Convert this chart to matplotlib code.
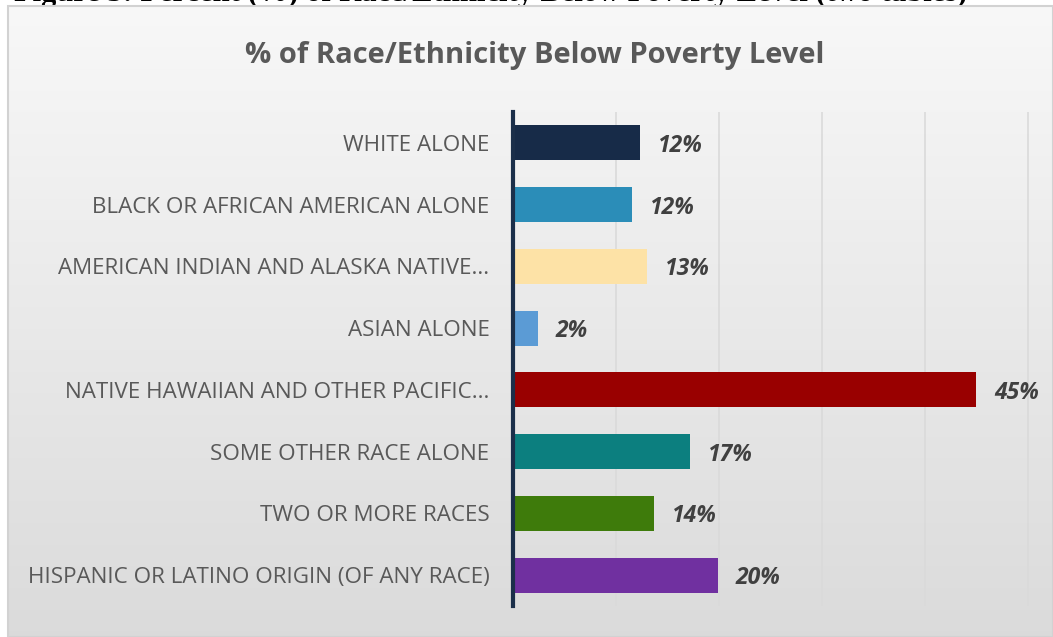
import numpy as np
import matplotlib.pyplot as plt
from matplotlib.patches import Rectangle

categories = [
    "WHITE ALONE",
    "BLACK OR AFRICAN AMERICAN ALONE",
    "AMERICAN INDIAN AND ALASKA NATIVE...",
    "ASIAN ALONE",
    "NATIVE HAWAIIAN AND OTHER PACIFIC...",
    "SOME OTHER RACE ALONE",
    "TWO OR MORE RACES",
    "HISPANIC OR LATINO ORIGIN (OF ANY RACE)",
]
pct_below_poverty = [12.3, 11.6, 13.0, 2.4, 45.0, 17.2, 13.7, 19.9]
bar_colors = ["#172b48", "#2b8db8", "#fde2a6", "#5b9bd5",
              "#990000", "#0c7f7f", "#3e7b0b", "#7030a0"]

title = "% of Race/Ethnicity Below Poverty Level"
caption = "Figure 3: Percent (%) of Race/Ethnicity Below Poverty Level (two tables)"

W, H = 1053, 637
fig = plt.figure(figsize=(W / 100, H / 100), dpi=100)
fig.patch.set_facecolor("white")

# caption line, mostly hidden behind the chart panel and the top edge
fig.text(14 / W, 1 - 1.0 / H, caption, family="Liberation Serif",
         fontweight="bold", fontsize=22, color="black", va="baseline",
         ha="left", zorder=0)

# chart panel with a soft vertical gradient
bg = fig.add_axes([8 / W, 0, 1 - 8 / W, 1 - 6 / H])
bg.set_zorder(1)
grad = np.linspace(0.972, 0.858, 256).reshape(-1, 1)
bg.imshow(np.dstack([grad, grad, grad]), aspect="auto", extent=[0, 1, 0, 1],
          interpolation="bicubic")
bg.set_xlim(0, 1)
bg.set_ylim(0, 1)
bg.axis("off")
bg.add_patch(Rectangle((0, 0), 1, 1, fill=False, edgecolor="#d2d2d2",
                       linewidth=1.5, transform=bg.transAxes, clip_on=False))

fig.text(535 / W, 1 - 55 / H, title, ha="center", va="center",
         family="Open Sans", fontweight="bold", fontsize=21, color="#595959",
         zorder=5)

# plot area
x0, x1 = 513, 1053
y_top, y_bot = 112, 606
ax = fig.add_axes([x0 / W, 1 - y_bot / H, (x1 - x0) / W, (y_bot - y_top) / H])
ax.set_zorder(2)
ax.patch.set_alpha(0)
xmax = (x1 - x0) / 10.29
ax.set_xlim(0, xmax)

y = np.arange(len(categories))
ax.barh(y, pct_below_poverty, height=0.57, color=bar_colors, zorder=3)
ax.set_ylim(len(categories) - 0.5, -0.5)

ax.set_xticks(np.arange(10, xmax, 10))
ax.tick_params(axis="x", length=0, labelbottom=False)
ax.grid(axis="x", color="#dadada", linewidth=1.2, zorder=0)

ax.set_yticks(y)
ax.set_yticklabels(categories, family="Open Sans", fontsize=16.1, color="#595959")
ax.tick_params(axis="y", length=0, pad=17)

for s in ["top", "right", "bottom"]:
    ax.spines[s].set_visible(False)
ax.spines["left"].set_color("#1b2f4a")
ax.spines["left"].set_linewidth(3)
ax.spines["left"].set_zorder(4)

for yi, v in zip(y, pct_below_poverty):
    ax.text(v + 1.75, yi + 0.05, f"{v:.0f}%", va="center", ha="left",
            family="Open Sans", fontweight="bold", fontstyle="italic",
            fontsize=16.5, color="#404040")

fig.savefig("out.png", dpi=100)
